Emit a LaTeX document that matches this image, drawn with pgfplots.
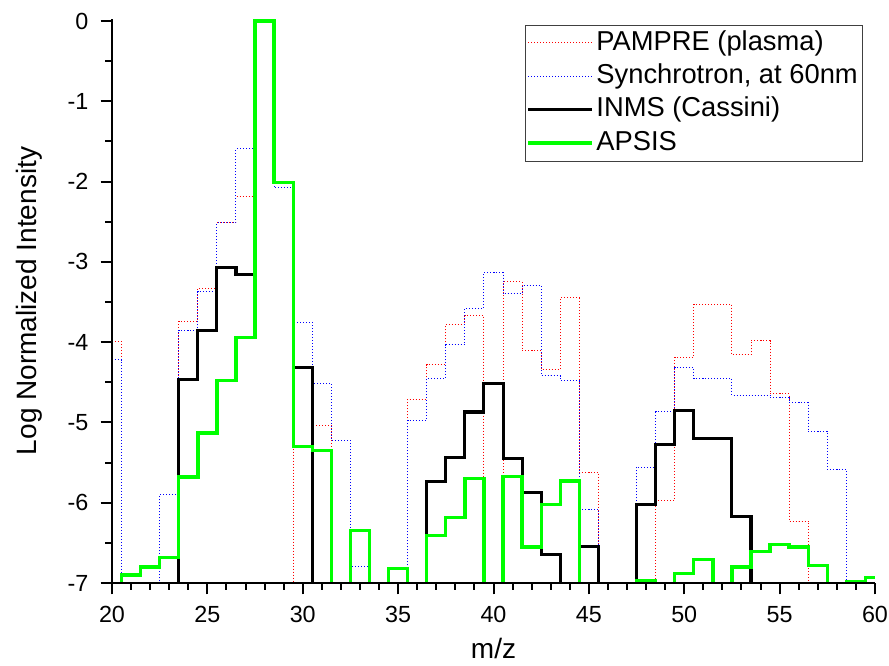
\documentclass[border=0pt]{standalone}
\usepackage{pgfplots}
\usepackage{pgfplotstable}
\pgfplotsset{compat=1.18}
\usepackage{fontspec}
\setmainfont{Liberation Sans}
\definecolor{lgreen}{RGB}{0,255,0}
\definecolor{pred}{RGB}{255,0,0}
\definecolor{pblue}{RGB}{0,0,255}
\pgfplotstableread{
x pam syn inms apsis
20 -3.99 -4.22 -7.04 -7.04
21 -7.04 -7.04 -7.04 -6.90
22 -7.04 -7.04 -7.04 -6.80
23 -7.04 -5.90 -7.04 -6.68
24 -3.74 -3.85 -4.46 -5.68
25 -3.33 -3.37 -3.86 -5.13
26 -2.51 -2.51 -3.07 -4.48
27 -2.19 -1.59 -3.16 -3.94
28 0 0 0 0
29 -2.01 -2.08 -2.01 -2.01
30 -7.04 -3.75 -4.31 -5.30
31 -5.04 -4.51 -7.04 -5.35
32 -7.04 -5.22 -7.04 -7.04
33 -7.04 -6.80 -7.04 -6.35
34 -7.04 -7.04 -7.04 -7.04
35 -7.04 -7.04 -7.04 -6.82
36 -4.71 -4.97 -7.04 -7.04
37 -4.28 -4.45 -5.73 -6.41
38 -3.78 -4.03 -5.44 -6.18
39 -3.67 -3.58 -4.87 -5.70
40 -7.04 -3.13 -4.52 -7.04
41 -3.25 -3.40 -5.45 -5.67
42 -4.11 -3.30 -5.87 -6.55
43 -4.34 -4.42 -6.64 -6.02
44 -3.45 -4.48 -7.04 -5.73
45 -5.62 -6.08 -6.55 -7.04
46 -7.04 -7.04 -7.04 -7.04
47 -7.04 -7.04 -7.04 -7.04
48 -7.04 -5.56 -6.02 -6.97
49 -5.97 -4.87 -5.27 -7.04
50 -4.19 -4.32 -4.85 -6.88
51 -3.53 -4.45 -5.20 -6.71
52 -3.53 -4.45 -5.20 -7.04
53 -4.16 -4.66 -6.17 -6.80
54 -3.98 -4.66 -7.04 -6.61
55 -4.64 -4.69 -7.04 -6.52
56 -6.23 -4.75 -7.04 -6.55
57 -7.04 -5.11 -7.04 -6.78
58 -7.04 -5.59 -7.04 -7.04
59 -7.04 -7.04 -7.04 -6.98
60 -7.04 -7.04 -7.04 -6.93
}\data
\begin{document}
\begin{tikzpicture}
\begin{axis}[
  at={(0,0)}, anchor=south west,
  scale only axis, width=572.25pt, height=423pt,
  xmin=20, xmax=60, ymin=-7, ymax=0.025,
  axis on top,
  axis lines=left,
  axis line style={-, line width=1.5pt, black},
  xtick={20,25,...,60}, ytick={-7,-6,...,0},
  minor x tick num=4, minor y tick num=1,
  tick align=outside,
  major tick length=8.5pt, minor tick length=5pt,
  every tick/.style={black, line width=1.5pt},
  /pgf/number format/assume math mode=true,
  ticklabel style={font=\fontsize{17.5}{19}\selectfont},
  xticklabel style={anchor=north, inner sep=0pt, yshift=-9pt},
  yticklabel style={anchor=east, inner sep=0pt, xshift=-9pt},
  xlabel={m/z}, ylabel={Log Normalized Intensity},
  label style={font=\fontsize{21}{24}\selectfont},
  xlabel style={at={(axis description cs:0.5,-0.134)}, anchor=base},
  ylabel style={at={(axis description cs:-0.099,0.5)}, anchor=base, rotate=0},
  every axis plot/.append style={const plot mark mid},
  legend image code/.code={\draw[#1] (0pt,0pt) -- (48pt,0pt);},
  legend style={at={(0.983,0.99)}, anchor=north east, draw=black!75,
    font=\fontsize{20.5}{24}\selectfont, inner xsep=1pt, inner ysep=1pt,
    row sep=0pt, nodes={inner sep=2pt, text height=16pt, text depth=5pt},
    cells={anchor=west}},
]
\addplot[pred, line width=0.75pt, dash pattern=on 0.75pt off 1.5pt] table[x=x,y=pam] {\data};
\addlegendentry{PAMPRE (plasma)}
\addplot[pblue, line width=0.75pt, dash pattern=on 0.75pt off 1.5pt] table[x=x,y=syn] {\data};
\addlegendentry{Synchrotron, at 60nm}
\addplot[black, line width=2.3pt] table[x=x,y=inms] {\data};
\addlegendentry{INMS (Cassini)}
\addplot[lgreen, line width=2.5pt] table[x=x,y=apsis] {\data};
\addlegendentry{APSIS}
\end{axis}
\pgfresetboundingbox
\path[use as bounding box] (-84pt,-61.5pt) rectangle (582.75pt,437.25pt);
\end{tikzpicture}
\end{document}
